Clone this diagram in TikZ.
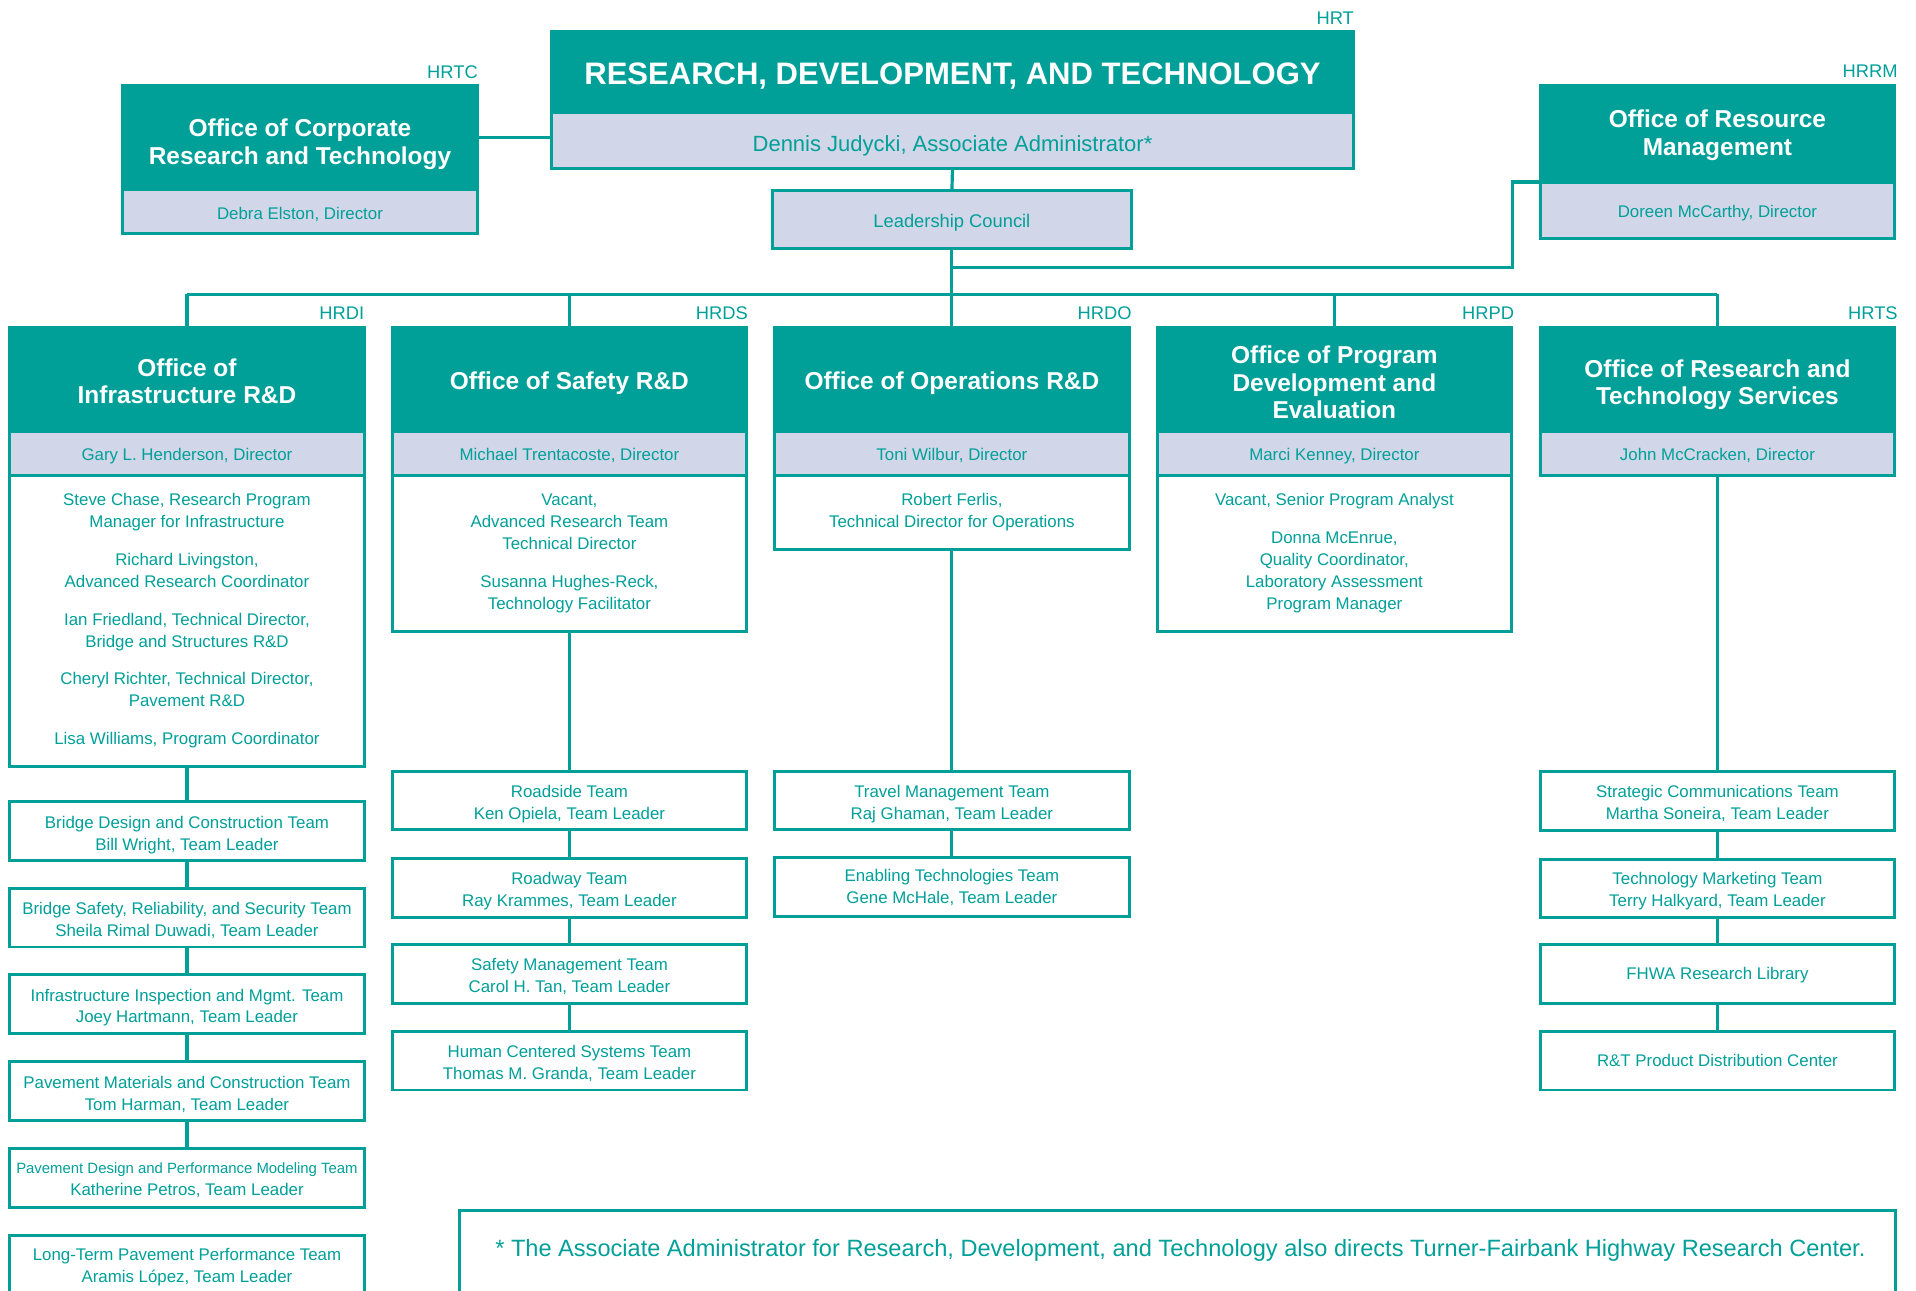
\documentclass[tikz,border=0pt]{standalone}
\usepackage{fontspec}
\setmainfont{Liberation Sans}
\definecolor{teal1}{RGB}{0,160,153}
\definecolor{lav}{RGB}{209,214,232}
\newcommand\txd[1]{\rule{0pt}{\dimexpr0.74em+#1\relax}}
\tikzset{
  every node/.style={inner sep=0pt, outer sep=0pt},
  tdown/.style={execute at begin node={\rule{0pt}{\dimexpr0.74em+#1\relax}}},
  hdr/.style={draw=teal1, fill=teal1, line width=1.2pt, text=white,
    font=\bfseries\fontsize{10}{11.25}\selectfont, align=center, minimum width=145pt, minimum height=42.5pt},
  dirbox/.style={draw=teal1, fill=lav, line width=1.2pt, text=teal1,
    font=\fontsize{6.9}{9}\selectfont, align=center, minimum width=145pt, minimum height=18pt, tdown=2pt},
  content/.style={draw=teal1, fill=white, line width=1.2pt, text=teal1,
    font=\fontsize{6.9}{9}\selectfont, align=center, minimum width=145pt},
  team/.style={draw=teal1, fill=white, line width=1.2pt, text=teal1,
    font=\fontsize{6.9}{9}\selectfont, align=center, minimum width=145pt, minimum height=24pt},
  tag/.style={text=teal1, font=\fontsize{7.5}{9}\selectfont, anchor=east},
  conn/.style={draw=teal1, line width=1.3pt},
}
\begin{document}
\begin{tikzpicture}[x=0.5pt, y=-0.5pt]
\useasboundingbox (0,0) rectangle (1568,1056);
\clip (0,0) rectangle (1568,1056);

% ---- top level
\node[hdr, minimum width=328.5pt, minimum height=33pt, tdown=3pt,
  font=\bfseries\fontsize{12.7}{14}\selectfont] (hrtH) at (779.5,59) {RESEARCH, DEVELOPMENT, AND TECHNOLOGY};
\node[dirbox, minimum width=328.5pt, minimum height=23pt, tdown=4pt,
  font=\fontsize{9}{11}\selectfont] (hrtD) at (779.5,115) {Dennis Judycki, Associate Administrator*};
\node[tag] (tHRT) at (1108,15) {HRT};

\node[hdr] (ctH) at (245.5,112.5) {\txd{5.5pt}Office of Corporate\\Research and Technology};
\node[dirbox] (ctD) at (245.5,173) {Debra Elston, Director};
\node[tag] (tHRTC) at (391,59) {HRTC};

\node[hdr, minimum height=39.5pt] (rmH) at (1405.5,109.5) {\txd{1pt}Office of Resource\\Management};
\node[dirbox, minimum height=23pt] (rmD) at (1405.5,172) {Doreen McCarthy, Director};
\node[tag] (tHRRM) at (1553,58) {HRRM};

\node[dirbox, minimum width=147pt, minimum height=23.5pt, tdown=3pt,
  font=\fontsize{7.5}{9}\selectfont] (lc) at (779,179.5) {Leadership Council};

% ---- divisions
\node[hdr] (inH) at (153,310.5) {\txd{1.5pt}Office of\\Infrastructure R\&D};
\node[dirbox] (inD) at (153,371) {Gary L. Henderson, Director};
\node[content, minimum height=119pt] (inC) at (153,508) {Steve Chase, Research Program\\Manager for Infrastructure\\[6.5pt]
Richard Livingston,\\Advanced Research Coordinator\\[6.5pt]
Ian Friedland, Technical Director,\\Bridge and Structures R\&D\\[6.5pt]
Cheryl Richter, Technical Director,\\Pavement R\&D\\[6.5pt]
Lisa Williams, Program Coordinator};
\node[tag] (tHRDI) at (298,256) {HRDI};

\node[hdr, tdown=3pt] (sdH) at (466,310.5) {Office of Safety R\&D};
\node[dirbox] (sdD) at (466,371) {Michael Trentacoste, Director};
\node[content, minimum height=64pt] (sdC) at (466,453) {Vacant,\\Advanced Research Team\\Technical Director\\[6.5pt]
Susanna Hughes-Reck,\\Technology Facilitator};
\node[tag] (tHRDS) at (612,256) {HRDS};

\node[hdr, tdown=3pt] (opH) at (779,310.5) {Office of Operations R\&D};
\node[dirbox] (opD) at (779,371) {Toni Wilbur, Director};
\node[content, minimum height=30.5pt] (opC) at (779,419.5) {Robert Ferlis,\\Technical Director for Operations};
\node[tag] (tHRDO) at (926,256) {HRDO};

\node[hdr] (pdH) at (1092,310.5) {\txd{2.5pt}Office of Program\\Development and\\Evaluation};
\node[dirbox] (pdD) at (1092,371) {Marci Kenney, Director};
\node[content, minimum height=64pt] (pdC) at (1092,453) {Vacant, Senior Program Analyst\\[6.5pt]
Donna McEnrue,\\Quality Coordinator,\\Laboratory Assessment\\Program Manager};
\node[tag] (tHRPD) at (1239,256) {HRPD};

\node[hdr] (tsH) at (1405.5,310.5) {\txd{4pt}Office of Research and\\Technology Services};
\node[dirbox] (tsD) at (1405.5,371) {John McCracken, Director};
\node[tag] (tHRTS) at (1553,256) {HRTS};

% ---- teams: infrastructure
\node[team] (bd) at (153,680) {\txd{3pt}Bridge Design and Construction Team\\Bill Wright, Team Leader};
\node[team] (bs) at (153,751) {\txd{2.5pt}Bridge Safety, Reliability, and Security Team\\Sheila Rimal Duwadi, Team Leader};
\node[team] (ii) at (153,821.5) {\txd{3pt}Infrastructure Inspection and Mgmt. Team\\Joey Hartmann, Team Leader};
\node[team] (pm) at (153,893) {\txd{2.5pt}Pavement Materials and Construction Team\\Tom Harman, Team Leader};
\node[team] (pd) at (153,964) {\txd{1.5pt}{\fontsize{6.1}{9}\selectfont Pavement Design and Performance Modeling Team}\\Katherine Petros, Team Leader};
\node[team] (lt) at (153,1035) {\txd{2pt}Long-Term Pavement Performance Team\\Aramis López, Team Leader};

% ---- teams: safety
\node[team] (rs) at (466,655) {\txd{3pt}Roadside Team\\Ken Opiela, Team Leader};
\node[team] (rw) at (466,726.5) {\txd{3pt}Roadway Team\\Ray Krammes, Team Leader};
\node[team] (sm) at (466,797) {\txd{2pt}Safety Management Team\\Carol H. Tan, Team Leader};
\node[team] (hc) at (466,868) {\txd{2pt}Human Centered Systems Team\\Thomas M. Granda, Team Leader};

% ---- teams: operations
\node[team] (tm) at (779,655) {\txd{3pt}Travel Management Team\\Raj Ghaman, Team Leader};
\node[team] (et) at (779,726) {Enabling Technologies Team\\Gene McHale, Team Leader};

% ---- teams: R&T services
\node[team] (sc) at (1405.5,655.5) {\txd{2pt}Strategic Communications Team\\Martha Soneira, Team Leader};
\node[team] (mk) at (1405.5,727) {\txd{2.5pt}Technology Marketing Team\\Terry Halkyard, Team Leader};
\node[team, tdown=0.5pt] (lib) at (1405.5,797) {FHWA Research Library};
\node[team] (rtp) at (1405.5,868) {R\&T Product Distribution Center};

% ---- footnote
\node[draw=teal1, line width=1.2pt, minimum width=587.5pt, minimum height=35.5pt] (fn) at (963.5,1026.5) {};
\node[text=teal1, font=\fontsize{9.65}{11}\selectfont] (fnT) at (966,1023) {* The Associate Administrator for Research, Development, and Technology also directs Turner-Fairbank Highway Research Center.};

% ---- connectors
\coordinate (bar) at (779,241);
\coordinate (rmj) at (1238,219);
\draw[conn] (ctH.east) -- (ctH.east -| hrtD.west);
\draw[conn] (hrtD.south) -- (lc.north);
\draw[conn] (lc.south) -- (bar);
\draw[conn] (rmH.south west) -| (rmj) -- (rmj -| lc.south);
\draw[conn] (bar -| inH.north) -- (bar -| tsH.north);
\foreach \d in {inH,sdH,opH,pdH,tsH} \draw[conn] (bar -| \d.north) -- (\d.north);

\draw[conn] (inC.south) -- (bd.north);
\draw[conn] (bd.south) -- (bs.north);
\draw[conn] (bs.south) -- (ii.north);
\draw[conn] (ii.south) -- (pm.north);
\draw[conn] (pm.south) -- (pd.north);

\draw[conn] (sdC.south) -- (rs.north);
\draw[conn] (rs.south) -- (rw.north);
\draw[conn] (rw.south) -- (sm.north);
\draw[conn] (sm.south) -- (hc.north);

\draw[conn] (opC.south) -- (tm.north);
\draw[conn] (tm.south) -- (et.north);

\draw[conn] (tsD.south) -- (sc.north);
\draw[conn] (sc.south) -- (mk.north);
\draw[conn] (mk.south) -- (lib.north);
\draw[conn] (lib.south) -- (rtp.north);
\end{tikzpicture}
\end{document}
